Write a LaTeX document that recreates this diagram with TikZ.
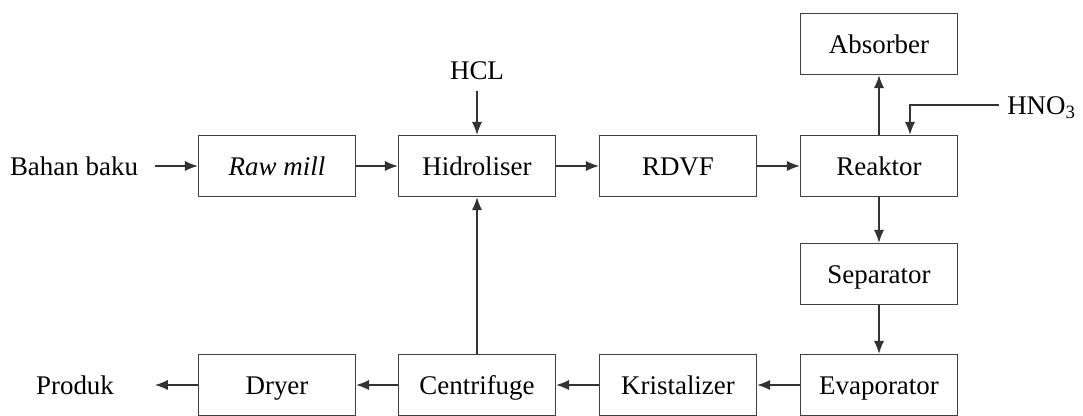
\documentclass[tikz,border=0pt]{standalone}
\usepackage{fontspec}
\setmainfont{Liberation Serif}
\usetikzlibrary{arrows.meta}

\begin{document}
\begin{tikzpicture}
[x=0.015cm,y=-0.015cm,
 font=\fontsize{11.5}{14}\selectfont,
 text height=2ex,text depth=0.3ex,
 >={Latex[length=5.5pt,width=4.4pt]},
 box/.style={draw=black!75,line width=0.6pt,minimum width=2.355cm,minimum height=0.915cm},
 flow/.style={->,draw=black!80,line width=0.6pt}]
\useasboundingbox (0,0) rectangle (1083,415);

% top row
\node[box] (rawmill) at (277,166) {\textit{Raw mill}};
\node[box] (hidro) at (477,166) {Hidroliser};
\node[box] (rdvf) at (678,166) {RDVF};
\node[box] (reaktor) at (879,166) {Reaktor};
\node[box] (absorber) at (879,44) {Absorber};
\node[box] (separator) at (879,274) {Separator};
% bottom row
\node[box] (evap) at (879,385) {Evaporator};
\node[box] (kristal) at (678,385) {Kristalizer};
\node[box] (centri) at (477,385) {Centrifuge};
\node[box] (dryer) at (277,385) {Dryer};

\node (bahan) at (74,166) {Bahan baku};
\node (produk) at (75,385) {Produk};
\node (hcl) at (477,70) {HCL};
\node[anchor=west] (hno) at (999,105) {HNO\textsubscript{3}};
\coordinate (in) at (155,166);
\coordinate (out) at (155,385);

\draw[flow] (in) -- (rawmill);
\draw[flow] (rawmill) -- (hidro);
\draw[flow] (hidro) -- (rdvf);
\draw[flow] (rdvf) -- (reaktor);
\draw[flow] (hcl) -- (hidro);
\draw[flow] (reaktor) -- (absorber);
\draw[flow] (hno.west) -| ([xshift=0.465cm]reaktor.north);
\draw[flow] (reaktor) -- (separator);
\draw[flow] (separator) -- (evap);
\draw[flow] (evap) -- (kristal);
\draw[flow] (kristal) -- (centri);
\draw[flow] (centri) -- (hidro);
\draw[flow] (centri) -- (dryer);
\draw[flow] (dryer) -- (out);
\end{tikzpicture}
\end{document}
